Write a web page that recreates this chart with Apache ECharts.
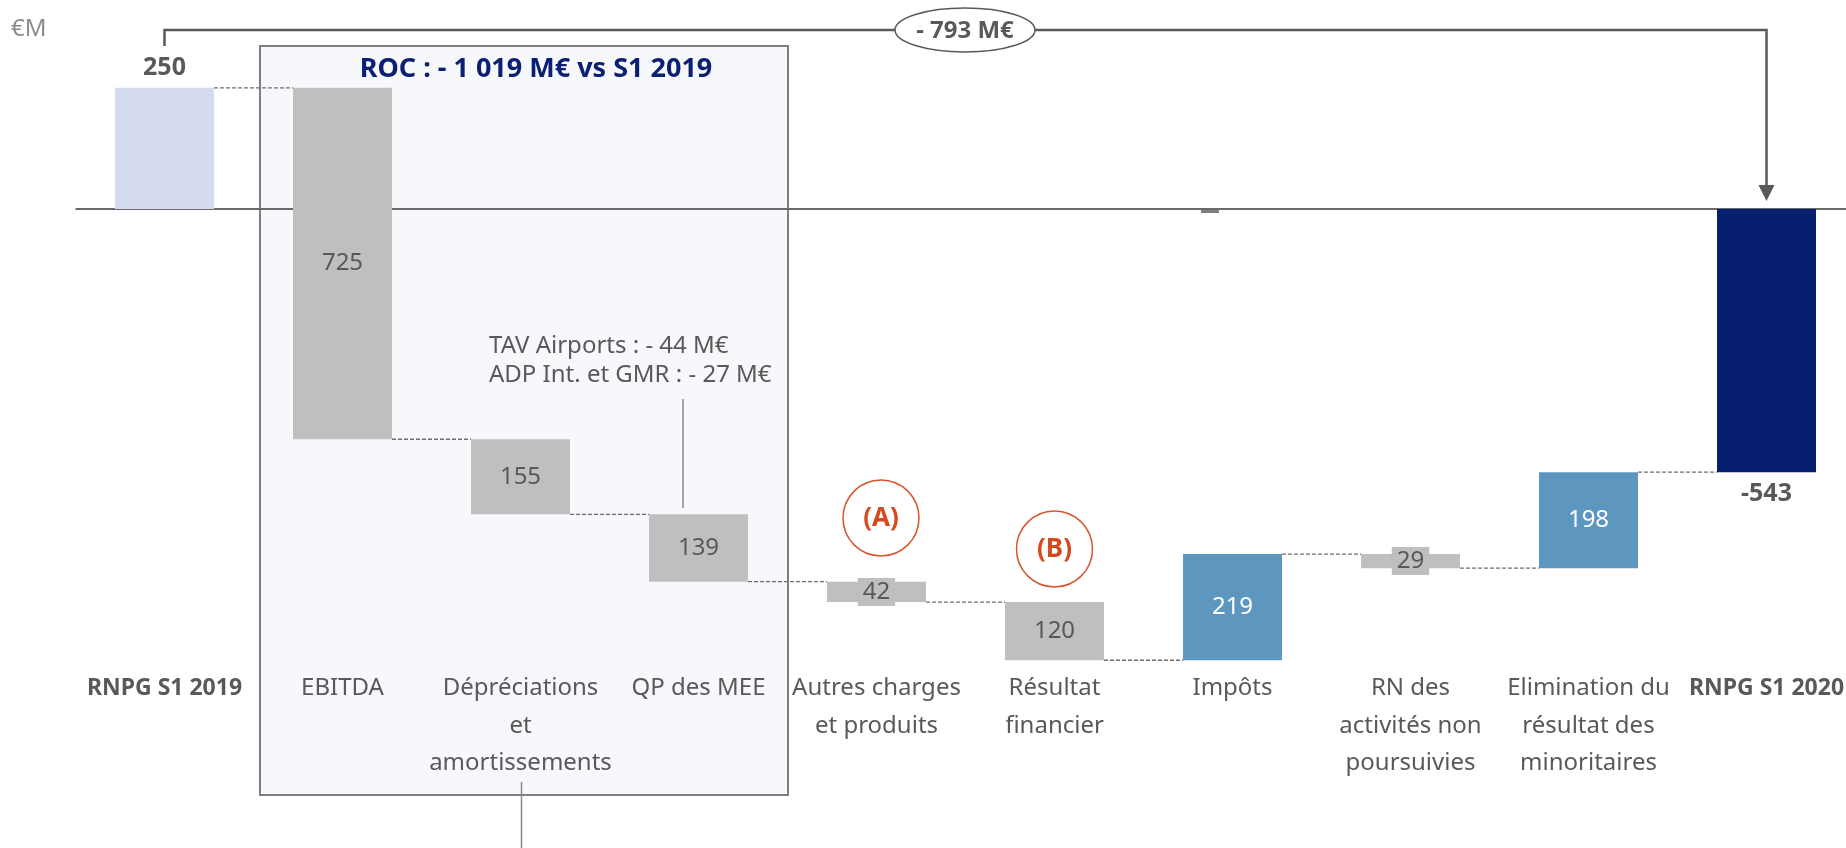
<!DOCTYPE html>
<html>
<head>
<meta charset="utf-8">
<script src="https://cdn.jsdelivr.net/npm/echarts@6/dist/echarts.min.js"></script>
<style>
  html, body { margin: 0; padding: 0; background: #fff; }
  #chart { width: 1846px; height: 848px; }
</style>
</head>
<body>
<div id="chart"></div>
<script>
// waterfall RNPG S1 2019 -> S1 2020
var categories = [
  'RNPG S1 2019',
  'EBITDA',
  'Dépréciations\net\namortissements',
  'QP des MEE',
  'Autres charges\net produits',
  'Résultat\nfinancier',
  'Impôts',
  'RN des\nactivités non\npoursuivies',
  'Elimination du\nrésultat des\nminoritaires',
  'RNPG S1 2020'
]
var values = [250, -725, -155, -139, -42, -120, 219, -29, 198, -543]
var isTotal = [true, false, false, false, false, false, false, false, false, true]

var FONT = '"Noto Sans", "DejaVu Sans", sans-serif'

// start / end of every step
var rows = []
var running = 0
values.forEach(function (v, i) {
  var start, end
  if (isTotal[i]) { start = 0; end = v; running = v }
  else { start = running; end = running + v; running = end }
  rows.push([i, start, end, v])
})

function barColor(i, v) {
  if (i === 0) return '#D5DBF0'
  if (i === values.length - 1) return '#061F6E'
  return v < 0 ? '#BFBFBF' : '#5D96BF'
}

var chart = echarts.init(document.getElementById('chart'))

chart.setOption({
  animation: false,
  grid: { left: 75.5, top: 63.6, width: 1780, height: 601, outerBoundsMode: 'none' },
  xAxis: {
    type: 'category',
    data: categories,
    axisLine: { show: false },
    axisTick: { show: false },
    axisLabel: {
      interval: 0,
      margin: 5,
      color: '#595959',
      fontFamily: FONT,
      fontSize: 24,
      lineHeight: 37.5,
      formatter: function (val, idx) {
        return isTotal[idx] ? '{b|' + val + '}' : val
      },
      rich: {
        b: { fontWeight: 'bold', fontSize: 23, color: '#595959', fontFamily: FONT, lineHeight: 37.5 }
      }
    }
  },
  yAxis: { type: 'value', min: -940, max: 300, show: false },
  series: [{
    type: 'custom',
    data: rows,
    encode: { x: 0, y: [1, 2] },
    renderItem: function (params, api) {
      var i = api.value(0)
      var start = api.value(1)
      var end = api.value(2)
      var v = api.value(3)
      var p0 = api.coord([i, start])
      var p1 = api.coord([i, end])
      var band = api.size([1, 0])[0]
      var w = band * 0.556
      var top = Math.min(p0[1], p1[1])
      var h = Math.abs(p0[1] - p1[1])
      var col = barColor(i, v)
      var kids = [{
        type: 'rect',
        shape: { x: p0[0] - w / 2, y: top, width: w, height: h },
        style: { fill: col }
      }]
      if (isTotal[i]) {
        kids.push({
          type: 'text',
          x: p0[0],
          y: v > 0 ? top - 20 : top + h + 22,
          style: {
            text: String(v), fill: '#595959', font: 'bold 25px ' + FONT,
            align: 'center', verticalAlign: 'middle'
          },
          z2: 10
        })
      } else {
        kids.push({
          type: 'text',
          x: p0[0],
          y: top + h / 2,
          style: {
            text: String(Math.abs(v)), fill: v > 0 ? '#ffffff' : '#595959',
            font: '24px ' + FONT, align: 'center', verticalAlign: 'middle',
            backgroundColor: col, padding: [2, 5]
          },
          z2: 10
        })
      }
      // dashed connector to next bar
      if (i < values.length - 1) {
        kids.push({
          type: 'line',
          shape: { x1: p0[0] + w / 2, y1: p1[1], x2: p0[0] + band - w / 2, y2: p1[1] },
          style: { stroke: '#6f6f6f', lineWidth: 1.3, lineDash: [4, 2] }
        })
      }
      return { type: 'group', children: kids }
    },
    markLine: {
      silent: true,
      z: 1,
      symbol: ['none', 'none'],
      label: { show: false },
      lineStyle: { color: '#6a6a6a', width: 2, type: 'solid' },
      data: [{ yAxis: 0 }]
    }
  }],
  graphic: [
    // ROC box
    { type: 'rect', z: -10, shape: { x: 260, y: 46, width: 528, height: 749 },
      style: { fill: '#F7F8FC', stroke: '#7F7F7F', lineWidth: 2 } },
    { type: 'text', z: 100, x: 536, y: 69,
      style: { text: 'ROC : - 1 019 M€ vs S1 2019', fill: '#0C2072', font: 'bold 27px ' + FONT, align: 'center', verticalAlign: 'middle' } },
    { type: 'text', z: 100, x: 11, y: 29,
      style: { text: '€M', fill: '#8C8C8C', font: '24px ' + FONT, verticalAlign: 'middle' } },
    // bracket and arrow
    { type: 'polyline', z: 100, shape: { points: [[164.5, 46], [164.5, 30], [1766.5, 30], [1766.5, 188]] },
      style: { stroke: '#595959', lineWidth: 2.5, fill: null } },
    { type: 'polygon', z: 100, shape: { points: [[1758.5, 185], [1774.5, 185], [1766.5, 201]] },
      style: { fill: '#595959' } },
    { type: 'ellipse', z: 101, shape: { cx: 965, cy: 30, rx: 70, ry: 22 },
      style: { fill: '#ffffff', stroke: '#595959', lineWidth: 1.5 } },
    { type: 'text', z: 102, x: 965, y: 31,
      style: { text: '- 793 M€', fill: '#595959', font: 'bold 24px ' + FONT, align: 'center', verticalAlign: 'middle' } },
    // MEE note
    { type: 'text', z: 100, x: 489, y: 361,
      style: { text: 'TAV Airports : - 44 M€\nADP Int. et GMR : - 27 M€', fill: '#595959', font: '24px ' + FONT, lineHeight: 29, verticalAlign: 'middle' } },
    { type: 'line', z: 100, shape: { x1: 683, y1: 399, x2: 683, y2: 508 },
      style: { stroke: '#8a8a8a', lineWidth: 1.5 } },
    { type: 'line', z: 100, shape: { x1: 521.5, y1: 782, x2: 521.5, y2: 848 },
      style: { stroke: '#8a8a8a', lineWidth: 1.5 } },
    // (A) (B)
    { type: 'circle', z: 100, shape: { cx: 881, cy: 518, r: 38 },
      style: { fill: null, stroke: '#D9542C', lineWidth: 1.5 } },
    { type: 'text', z: 100, x: 881, y: 519,
      style: { text: '(A)', fill: '#D24A1E', font: 'bold 26px ' + FONT, align: 'center', verticalAlign: 'middle' } },
    { type: 'circle', z: 100, shape: { cx: 1054.5, cy: 549, r: 38 },
      style: { fill: null, stroke: '#D9542C', lineWidth: 1.5 } },
    { type: 'text', z: 100, x: 1054.5, y: 550,
      style: { text: '(B)', fill: '#D24A1E', font: 'bold 26px ' + FONT, align: 'center', verticalAlign: 'middle' } },
    // small mark under zero line
    { type: 'rect', z: 100, shape: { x: 1201, y: 210, width: 18, height: 3 },
      style: { fill: '#7f7f7f' } }
  ]
})
</script>
</body>
</html>
